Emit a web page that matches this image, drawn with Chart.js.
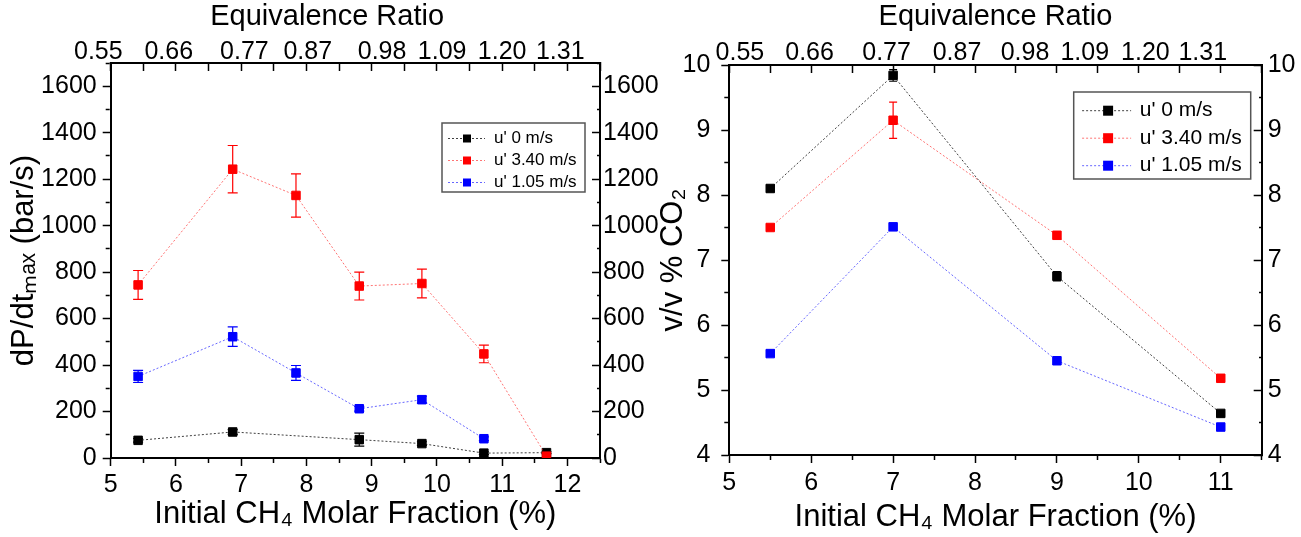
<!DOCTYPE html>
<html>
<head>
<meta charset="utf-8">
<script src="https://cdn.jsdelivr.net/npm/chart.js@4.4.0/dist/chart.umd.min.js"></script>
<style>
html, body { margin: 0; padding: 0; background: #fff; }
body { width: 1301px; height: 537px; position: relative; overflow: hidden; }
canvas { position: absolute; top: 0; }
#left { left: 0; }
#right { left: 640px; }
</style>
</head>
<body>
<canvas id="left" width="665" height="537"></canvas>
<canvas id="right" width="661" height="537"></canvas>
<script>
'use strict'

// left panel: dP/dt max (bar/s)
const fracL = [5.42, 6.87, 7.84, 8.81, 9.77, 10.72, 11.68];
const blackL = [76, 112, null, 79, 62, 21, 23];
const redL = [745, 1243, 1130, 740, 751, 448, 8];
const blueL = [351, 522, 366, 212, 251, 83, null];
const blackErrL = [8, 10, null, 28, 8, 6, 4];
const redErrL = [62, 102, 93, 60, 62, 38, 0];
const blueErrL = [26, 42, 32, 10, 15, 8, null];
const phiPosL = [4.81, 5.89, 7.05, 8.02, 9.16, 10.08, 11.0, 11.89];

// right panel: v/v % CO2
const fracR = [5.5, 7.0, 9.0, 11.0];
const blackR = [8.10, 9.84, 6.75, 4.64];
const redR = [7.50, 9.15, 7.38, 5.18];
const blueR = [5.56, 7.51, 5.45, 4.43];
const blackErrR = [0.05, 0.09, 0.07, 0.04];
const redErrR = [0.04, 0.28, 0.04, 0.04];
const blueErrR = [0.03, 0.03, 0.03, 0.03];
const phiPosR = [5.13, 5.98, 6.92, 7.78, 8.61, 9.34, 10.08, 10.78];

const phiLabels = ['0.55', '0.66', '0.77', '0.87', '0.98', '1.09', '1.20', '1.31'];
const seriesNames = ["u' 0 m/s", "u' 3.40 m/s", "u' 1.05 m/s"];

Chart.defaults.font.family = '"Liberation Sans", Arial, sans-serif';
Chart.defaults.color = '#000';

function steps(min, max, step) {
    const out = [];
    const n = Math.round((max - min) / step);
    for (let i = 0; i <= n; i++) out.push(+(min + i * step).toFixed(4));
    return out;
}

function lineSet(label, xs, ys, color, lineColor, order) {
    return {
        label: label,
        order: order,
        data: xs.map((x, i) => ({ x: x, y: ys[i] })),
        borderColor: lineColor,
        backgroundColor: color,
        pointBackgroundColor: color,
        pointBorderColor: color,
        borderWidth: 1,
        borderDash: [2, 2],
        pointStyle: 'rect',
        pointRadius: 6,
        pointBorderWidth: 1,
        spanGaps: true,
        tension: 0
    };
}

function errorBars(errSets, cap) {
    return {
        id: 'errorBars',
        beforeDatasetsDraw(chart) {
            const { ctx, scales: { x, y } } = chart;
            ctx.save();
            chart.data.datasets.forEach((ds, i) => {
                ctx.strokeStyle = ds.pointBackgroundColor;
                ctx.lineWidth = 1.2;
                ds.data.forEach((p, j) => {
                    const e = errSets[i][j];
                    if (p.y == null || !e) return;
                    const px = x.getPixelForValue(p.x);
                    const top = y.getPixelForValue(p.y + e);
                    const bot = y.getPixelForValue(p.y - e);
                    ctx.beginPath();
                    ctx.moveTo(px, top); ctx.lineTo(px, bot);
                    ctx.moveTo(px - cap, top); ctx.lineTo(px + cap, top);
                    ctx.moveTo(px - cap, bot); ctx.lineTo(px + cap, bot);
                    ctx.stroke();
                });
            });
            ctx.restore();
        }
    };
}

function boxLegend(o) {
    return {
        id: 'boxLegend',
        afterDraw(chart) {
            const { ctx, chartArea } = chart;
            const x0 = chartArea.right - o.right - o.w;
            const y0 = chartArea.top + o.top;
            ctx.save();
            ctx.fillStyle = '#fff';
            ctx.fillRect(x0, y0, o.w, o.h);
            ctx.strokeStyle = '#555';
            ctx.lineWidth = 1.5;
            ctx.strokeRect(x0, y0, o.w, o.h);
            chart.data.datasets.forEach((ds, i) => {
                const y = y0 + o.first + i * o.gap;
                ctx.setLineDash([2, 2]);
                ctx.strokeStyle = ds.borderColor;
                ctx.lineWidth = 1;
                ctx.beginPath();
                ctx.moveTo(x0 + o.l1, y);
                ctx.lineTo(x0 + o.l2, y);
                ctx.stroke();
                ctx.setLineDash([]);
                ctx.fillStyle = ds.pointBackgroundColor;
                ctx.fillRect(x0 + o.mc - o.m / 2, y - o.m / 2, o.m, o.m);
                ctx.fillStyle = '#000';
                ctx.font = o.font;
                ctx.textBaseline = 'middle';
                ctx.fillText(ds.label, x0 + o.tx, y);
            });
            ctx.restore();
        }
    };
}

function makeScales(o) {
    const xMarks = steps(o.xmin, o.xmax, 0.5);
    const yMarks = steps(o.ymin, o.ymax, o.yminor);
    const nTop = xMarks.length;
    const isMajorY = v => Math.abs(v / o.ystep - Math.round(v / o.ystep)) < 1e-6 && v <= o.ylabelMax;
    const tickFont = { size: 25 };
    return {
        x: {
            type: 'linear', position: 'bottom', min: o.xmin, max: o.xmax,
            afterBuildTicks: s => { s.ticks = xMarks.map(v => ({ value: v })); },
            afterFit: s => { s.height = o.bottomH; },
            ticks: {
                autoSkip: false, maxRotation: 0, padding: o.xPad, font: tickFont,
                callback: v => Number.isInteger(v) ? String(v) : ''
            },
            grid: {
                drawOnChartArea: false, tickLength: 8, tickWidth: 1.5, tickColor: '#000',
                tickBorderDash: c => (c.tick && Number.isInteger(c.tick.value)) ? [] : [4, 100]
            },
            border: { color: '#000', width: 2 },
            title: {
                display: true, text: 'Initial CH₄ Molar Fraction (%)',
                font: { size: 31 }, padding: { top: 0, bottom: o.xTitlePad }
            }
        },
        x2: {
            type: 'linear', position: 'top', min: o.xmin, max: o.xmax,
            afterBuildTicks: s => {
                s.ticks = xMarks.map(v => ({ value: v })).concat(o.phiPos.map(v => ({ value: v })));
            },
            afterFit: s => { s.height = o.topH; },
            ticks: {
                autoSkip: false, maxRotation: 0, padding: o.topPad, font: tickFont,
                callback: (v, i) => i >= nTop ? phiLabels[i - nTop] : ''
            },
            grid: {
                drawOnChartArea: false, tickLength: -8, tickWidth: 1.5,
                tickColor: c => c.index >= nTop ? 'rgba(0,0,0,0)' : '#000'
            },
            border: { color: '#000', width: 2 },
            title: {
                display: true, text: o.topTitle,
                font: { size: 29 }, padding: { top: 0, bottom: 0 }
            }
        },
        y: {
            type: 'linear', position: 'left', min: o.ymin, max: o.ymax,
            afterBuildTicks: s => { s.ticks = yMarks.map(v => ({ value: v })); },
            afterFit: s => { s.width = o.leftW; },
            ticks: {
                autoSkip: false, padding: o.yPad, font: tickFont,
                callback: v => isMajorY(v) ? String(v) : ''
            },
            grid: {
                drawOnChartArea: false, tickLength: 8, tickWidth: 1.5, tickColor: '#000',
                tickBorderDash: c => (c.tick && isMajorY(c.tick.value)) ? [] : [0, 3, 4, 100]
            },
            border: { color: '#000', width: 2 },
            title: {
                display: true, text: o.yTitle,
                font: { size: 31 }, padding: { top: o.yTitlePad, bottom: 0 }
            }
        },
        y2: {
            type: 'linear', position: 'right', min: o.ymin, max: o.ymax,
            afterBuildTicks: s => { s.ticks = yMarks.map(v => ({ value: v })); },
            afterFit: s => { s.width = o.rightW; },
            ticks: {
                autoSkip: false, padding: o.y2Pad, font: tickFont,
                callback: v => isMajorY(v) ? String(v) : ''
            },
            grid: {
                drawOnChartArea: false, tickLength: -8, tickWidth: 1.5, tickColor: '#000',
                tickBorderDash: c => (c.tick && isMajorY(c.tick.value)) ? [] : [4, 100]
            },
            border: { color: '#000', width: 2 }
        }
    };
}

const blackCol = '#000000', redCol = '#ff0000', blueCol = '#0000ff';
const blackLine = 'rgba(0,0,0,0.75)', redLine = 'rgba(255,0,0,0.55)', blueLine = 'rgba(0,0,255,0.6)';

new Chart(document.getElementById('left'), {
    type: 'line',
    data: {
        datasets: [
            lineSet(seriesNames[0], fracL, blackL, blackCol, blackLine, 2),
            lineSet(seriesNames[1], fracL, redL, redCol, redLine, 0),
            lineSet(seriesNames[2], fracL, blueL, blueCol, blueLine, 1)
        ]
    },
    options: {
        responsive: false, animation: false, devicePixelRatio: 1,
        layout: { padding: 0 },
        plugins: { legend: { display: false }, tooltip: { enabled: false } },
        scales: makeScales({
            xmin: 5, xmax: 12.5, ymin: 0, ymax: 1700, yminor: 100, ystep: 200, ylabelMax: 1600,
            phiPos: phiPosL, topTitle: 'Equivalence Ratio' + '       ',
            yTitle: 'dP/dtₘₐₓ (bar/s)',
            leftW: 110.7, rightW: 65, topH: 63, bottomH: 79,
            xPad: 4, xTitlePad: 4, topPad: 4, yPad: 6, y2Pad: 11, yTitlePad: 6
        })
    },
    plugins: [
        errorBars([blackErrL, redErrL, blueErrL], 5),
        boxLegend({ right: 15, top: 60, w: 143, h: 69, first: 15.5, gap: 22,
            l1: 6, l2: 43, mc: 25, m: 8, tx: 52, font: '17px "Liberation Sans", Arial, sans-serif' })
    ]
});

new Chart(document.getElementById('right'), {
    type: 'line',
    data: {
        datasets: [
            lineSet(seriesNames[0], fracR, blackR, blackCol, blackLine, 0),
            lineSet(seriesNames[1], fracR, redR, redCol, redLine, 1),
            lineSet(seriesNames[2], fracR, blueR, blueCol, blueLine, 2)
        ]
    },
    options: {
        responsive: false, animation: false, devicePixelRatio: 1,
        layout: { padding: 0 },
        plugins: { legend: { display: false }, tooltip: { enabled: false } },
        scales: makeScales({
            xmin: 5, xmax: 11.5, ymin: 4, ymax: 10, yminor: 0.5, ystep: 1, ylabelMax: 10,
            phiPos: phiPosR, topTitle: 'Equivalence Ratio',
            yTitle: 'v/v % CO₂',
            leftW: 89.3, rightW: 39.3, topH: 65, bottomH: 82,
            xPad: 5, xTitlePad: 1, topPad: 5, yPad: 11, y2Pad: 14, yTitlePad: 15
        })
    },
    plugins: [
        errorBars([blackErrR, redErrR, blueErrR], 4),
        boxLegend({ right: 11, top: 27, w: 177, h: 87, first: 18.7, gap: 27.5,
            l1: 8.4, l2: 57.4, mc: 34.4, m: 10, tx: 66, font: '21px "Liberation Sans", Arial, sans-serif' })
    ]
});
</script>
</body>
</html>
